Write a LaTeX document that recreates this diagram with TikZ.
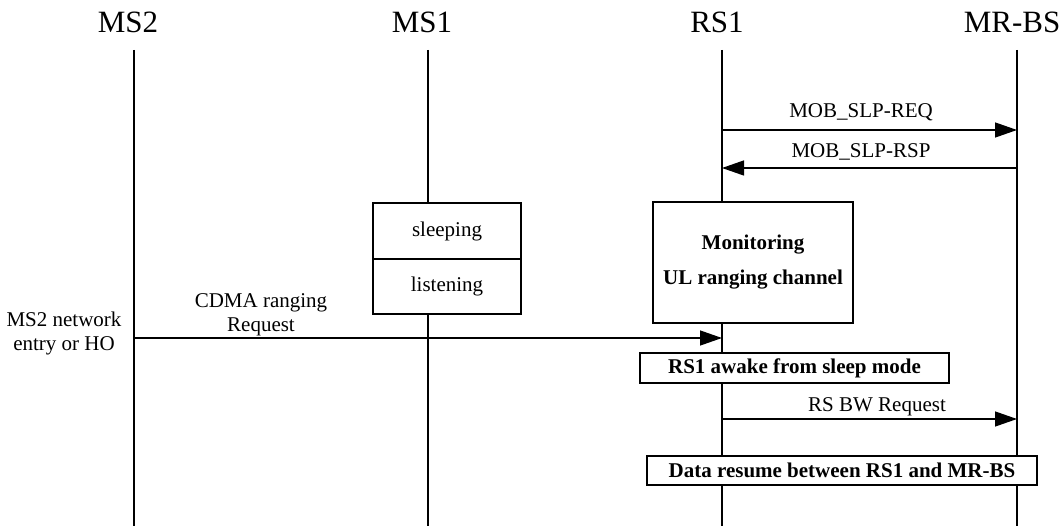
\documentclass[tikz,border=0pt]{standalone}
\usepackage{fontspec}
\setmainfont{Liberation Serif}
\usetikzlibrary{arrows.meta}

\begin{document}
\begin{tikzpicture}[x=1pt, y=-1pt,
    life/.style={line width=1.3pt},
    msg/.style={line width=1.3pt, -{Triangle[length=22pt,width=15pt]}},
    head/.style={font=\fontsize{31}{36}\selectfont, inner sep=0pt},
    lbl/.style={font=\fontsize{21}{24}\selectfont, inner sep=0pt, align=center},
    statebox/.style={draw, line width=1.3pt, fill=white, inner sep=0pt,
        font=\fontsize{21}{24}\selectfont},
    boldbox/.style={statebox, font=\fontsize{21}{35}\selectfont\bfseries, align=center}]
    \useasboundingbox (0,0) rectangle (1062,526);

    % Lifelines
    \foreach \x/\name/\txt in {134/ms2/MS2, 428/ms1/MS1, 722/rs1/RS1, 1017/mrbs/MR-BS} {
        \coordinate (\name-top) at (\x,50);
        \coordinate (\name-end) at (\x,526);
        \draw[life] (\name-top) -- (\name-end);
    }
    \node[head] (ms2) at (128,22) {MS2};
    \node[head] (ms1) at (422,22) {MS1};
    \node[head] (rs1) at (717,22) {RS1};
    \node[head] (mrbs) at (1012,22) {MR-BS};

    % Sleep request / response
    \draw[msg] (rs1-top |- 0,130) -- (mrbs-top |- 0,130);
    \node[lbl] (req) at (861,112) {MOB\_SLP-REQ};
    \draw[msg] (mrbs-top |- 0,168) -- (rs1-top |- 0,168);
    \node[lbl] (rsp) at (861,152) {MOB\_SLP-RSP};

    % States
    \node[statebox, minimum width=148pt, minimum height=56pt] (sleeping) at (447,231) {sleeping};
    \node[statebox, minimum width=148pt, minimum height=55pt] (listening) at (447,286.5) {listening};
    \node[boldbox, minimum width=200pt, minimum height=121pt] (monitor) at (753,262.5)
        {Monitoring\\UL ranging channel};

    % Ranging from MS2
    \node[lbl] (entry) at (64,333) {MS2 network\\entry or HO};
    \draw[msg] (ms2-top |- 0,338) -- (rs1-top |- 0,338);
    \node[lbl] (cdma) at (261,315) {CDMA ranging\\Request};

    % Wake up and resume
    \node[boldbox, minimum width=309pt, minimum height=30pt] (awake) at (794.5,368)
        {RS1 awake from sleep mode};
    \draw[msg] (rs1-top |- 0,419) -- (mrbs-top |- 0,419);
    \node[lbl] (bwreq) at (877,407) {RS BW Request};
    \node[boldbox, minimum width=390pt, minimum height=29pt] (resume) at (842,470.5)
        {Data resume between RS1 and MR-BS};
\end{tikzpicture}
\end{document}
